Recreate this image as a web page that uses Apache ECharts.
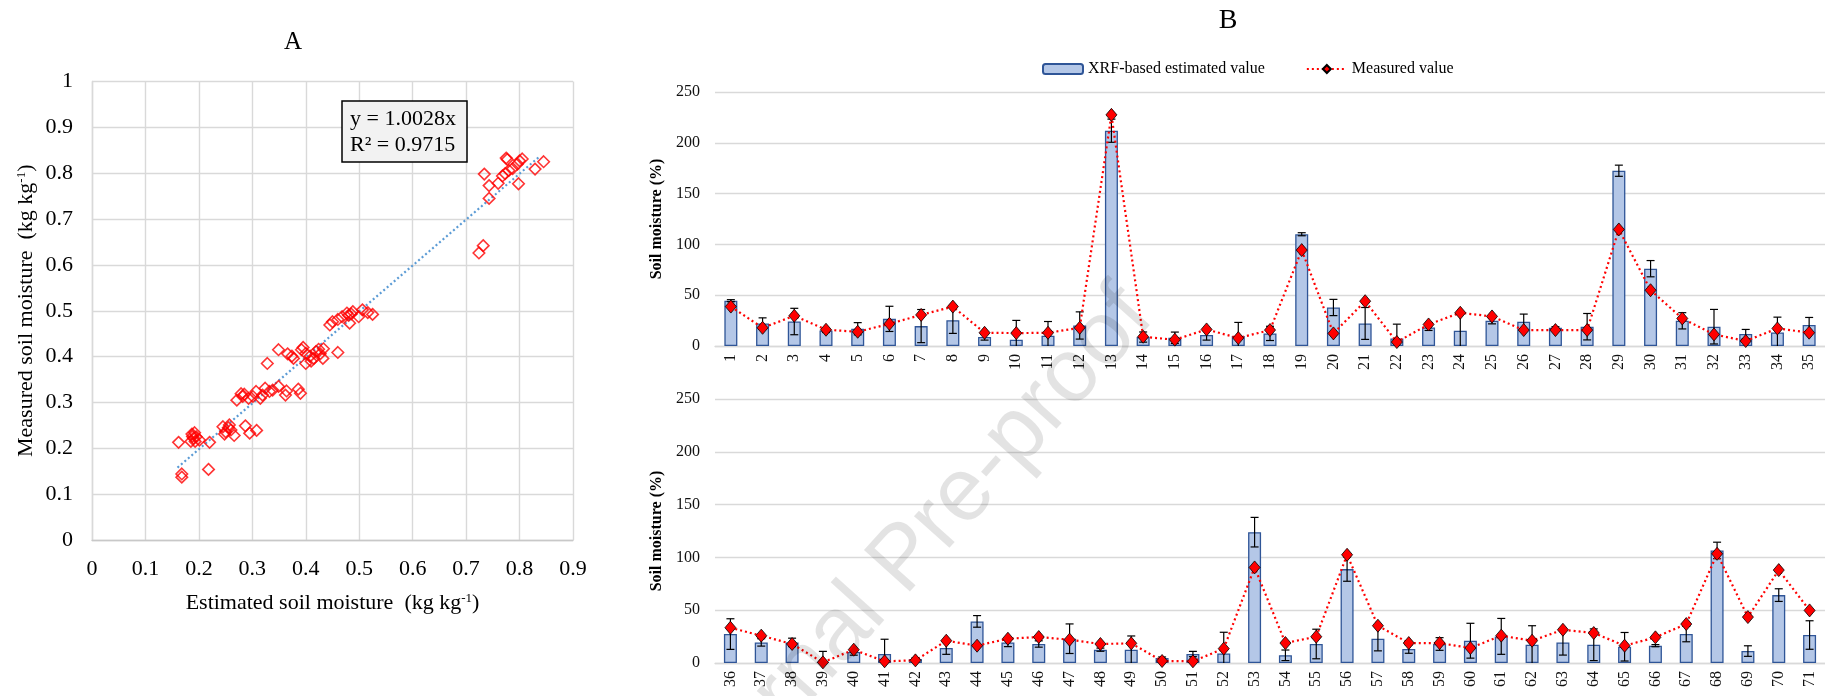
<!DOCTYPE html>
<html>
<head>
<meta charset="utf-8">
<title>Soil moisture</title>
<script src="https://cdn.jsdelivr.net/npm/echarts@6.0.0/dist/echarts.min.js"></script>
<style>
  html, body { margin: 0; padding: 0; background: #fff; }
  #chart { width: 1825px; height: 696px; }
</style>
</head>
<body>
<div id="chart"></div>
<script>
// Panel A - estimated vs measured soil moisture (kg kg-1)
var estA = [0.162, 0.168, 0.168, 0.185, 0.187, 0.188, 0.190, 0.192, 0.193, 0.195, 0.201, 0.218, 0.220,
    0.245, 0.248, 0.250, 0.255, 0.257, 0.260, 0.266, 0.271, 0.279, 0.282, 0.285, 0.287, 0.293, 0.295,
    0.301, 0.307, 0.308, 0.315, 0.319, 0.324, 0.328, 0.332, 0.338, 0.349, 0.349, 0.362, 0.364, 0.366,
    0.374, 0.377, 0.386, 0.390, 0.392, 0.395, 0.400, 0.400, 0.408, 0.410, 0.415, 0.419, 0.424, 0.427,
    0.432, 0.433, 0.460, 0.445, 0.450, 0.460, 0.468, 0.477, 0.480, 0.482, 0.485, 0.488, 0.499, 0.506,
    0.516, 0.525,
    0.724, 0.732, 0.734, 0.743, 0.743, 0.760, 0.768, 0.775, 0.777, 0.773, 0.780, 0.787, 0.798, 0.800,
    0.805, 0.796, 0.829, 0.845];
var measA = [0.213, 0.144, 0.137, 0.215, 0.231, 0.226, 0.222, 0.234, 0.215, 0.225, 0.218, 0.154, 0.213,
    0.247, 0.231, 0.236, 0.245, 0.251, 0.240, 0.228, 0.305, 0.319, 0.313, 0.318, 0.249, 0.309, 0.233,
    0.313, 0.324, 0.239, 0.309, 0.316, 0.331, 0.385, 0.324, 0.327, 0.335, 0.415, 0.316, 0.325, 0.406,
    0.401, 0.396, 0.329, 0.320, 0.415, 0.420, 0.385, 0.407, 0.401, 0.390, 0.396, 0.411, 0.416, 0.406,
    0.396, 0.417, 0.409, 0.469, 0.476, 0.481, 0.487, 0.495, 0.490, 0.473, 0.493, 0.498, 0.487, 0.502,
    0.496, 0.492,
    0.626, 0.642, 0.798, 0.773, 0.745, 0.778, 0.794, 0.833, 0.830, 0.799, 0.806, 0.810, 0.777, 0.827,
    0.831, 0.820, 0.809, 0.825];
// dotted trend line ends (y = 1.0028x)
var trendX = [0.160, 0.837];
var trendY = [0.158, 0.836];

// Panel B - sites 1-35
var sitesTop = ['1', '2', '3', '4', '5', '6', '7', '8', '9', '10', '11', '12', '13', '14', '15', '16', '17', '18',
    '19', '20', '21', '22', '23', '24', '25', '26', '27', '28', '29', '30', '31', '32', '33', '34', '35'];
var xrfTop = [44.6, 22.2, 24.1, 15.3, 17.0, 26.7, 19.6, 25.4, 8.8, 6.2, 10.1, 20.2, 211.9, 8.8, 8.1, 10.8, 9.8, 12.4,
    110.0, 37.9, 22.2, 7.5, 18.3, 15.0, 24.8, 23.9, 18.0, 19.0, 172.5, 76.1, 24.8, 19.0, 11.8, 13.4, 20.6];
var errTop = [1.0, 5.5, 13.0, 2.0, 6.0, 12.4, 16.3, 13.0, 3.0, 19.0, 14.0, 13.4, 11.4, 5.0, 5.6, 5.0, 13.4, 7.0,
    1.5, 8.0, 15.7, 14.0, 3.0, 17.7, 3.0, 7.5, 1.0, 13.0, 5.5, 8.0, 8.0, 17.0, 4.5, 15.0, 7.5];
var measTop = [38.8, 17.9, 29.7, 16.0, 14.0, 21.8, 30.6, 38.8, 13.0, 12.7, 13.0, 17.9, 227.5, 9.1, 6.2, 16.3, 7.8, 15.7,
    94.4, 12.4, 44.1, 3.9, 21.2, 32.7, 29.1, 15.7, 15.7, 15.7, 114.7, 54.9, 27.1, 11.4, 4.9, 17.3, 13.1];

// Panel B - sites 36-71
var sitesBottom = ['36', '37', '38', '39', '40', '41', '42', '43', '44', '45', '46', '47', '48', '49', '50', '51',
    '52', '53', '54', '55', '56', '57', '58', '59', '60', '61', '62', '63', '64', '65', '66', '67', '68', '69',
    '70', '71'];
var xrfBottom = [27.4, 19.5, 19.5, 1.0, 10.4, 8.5, 3.8, 14.2, 39.4, 19.5, 18.0, 23.0, 12.6, 12.6, 4.7, 8.5,
    9.1, 123.9, 7.3, 18.0, 88.9, 23.0, 13.2, 18.0, 21.1, 25.2, 17.3, 19.5, 17.3, 15.4, 16.4, 27.4, 106.6, 11.3,
    64.3, 26.5];
var errBottom = [14.5, 3.5, 4.0, 10.0, 3.0, 14.0, 1.0, 6.0, 5.5, 4.0, 3.0, 14.0, 1.5, 13.0, 1.0, 2.5,
    20.0, 14.0, 5.0, 14.0, 11.5, 11.5, 4.0, 6.0, 16.5, 17.0, 18.0, 12.0, 15.0, 13.5, 1.0, 7.3, 7.8, 5.0,
    6.0, 13.5];
var measBottom = [33.4, 25.9, 18.0, 0.6, 12.6, 1.6, 2.5, 21.1, 16.4, 23.0, 24.6, 22.1, 18.0, 18.6, 1.9, 1.6,
    13.6, 90.5, 18.9, 24.9, 102.5, 35.3, 18.9, 18.9, 14.2, 25.9, 21.1, 31.5, 28.4, 16.4, 24.3, 36.9, 103.4, 43.5,
    88.0, 49.8];

var serif = 'Liberation Serif';
var gridGray = '#d9d9d9';

function pairs(xs, ys) {
    return xs.map(function (x, i) { return [x, ys[i]]; });
}

function errData(vals, errs) {
    return vals.map(function (v, i) { return [i, v, errs[i]]; });
}

// vertical error bar with caps, clipped at zero
function renderErr(params, api) {
    var i = api.value(0);
    var v = api.value(1);
    var e = api.value(2);
    var lowVal = Math.max(0, v - e);
    var hi = api.coord([i, v + e]);
    var lo = api.coord([i, lowVal]);
    var cap = 4;
    var st = { stroke: '#000', lineWidth: 1.2 };
    var kids = [
        { type: 'line', shape: { x1: hi[0], y1: hi[1], x2: lo[0], y2: lo[1] }, style: st },
        { type: 'line', shape: { x1: hi[0] - cap, y1: hi[1], x2: hi[0] + cap, y2: hi[1] }, style: st }
    ];
    if (v - e > 0) {
        kids.push({ type: 'line', shape: { x1: lo[0] - cap, y1: lo[1], x2: lo[0] + cap, y2: lo[1] }, style: st });
    }
    return { type: 'group', children: kids };
}

function catAxis(idx, cats) {
    return {
        type: 'category',
        gridIndex: idx,
        data: cats,
        boundaryGap: true,
        axisLine: { show: true, lineStyle: { color: gridGray, width: 1.3 } },
        axisTick: { show: false },
        axisLabel: {
            interval: 0, rotate: 90, margin: 8,
            fontFamily: serif, fontSize: 16, color: '#111'
        },
        splitLine: { show: false }
    };
}

function pctAxis(idx) {
    return {
        type: 'value',
        gridIndex: idx,
        min: 0, max: 250, interval: 50,
        name: 'Soil moisture (%)',
        nameLocation: 'middle',
        nameGap: 44,
        nameTextStyle: { fontFamily: serif, fontSize: 16, fontWeight: 'bold', color: '#000' },
        axisLine: { show: false },
        axisTick: { show: false },
        axisLabel: { margin: 15, fontFamily: serif, fontSize: 16, color: '#111' },
        splitLine: { show: true, lineStyle: { color: gridGray, width: 1.3 } }
    };
}

var barStyle = { color: '#b4c7e7', borderColor: '#2f5597', borderWidth: 1.3 };
var measLine = { color: '#ff0000', width: 2.2, type: [2, 3] };
var measItem = { color: '#ff0000', borderColor: '#000', borderWidth: 0.8 };

var supRich = {
    sup: { fontFamily: serif, fontSize: 13, verticalAlign: 'top', padding: [0, 0, 4, 0] }
};

var chart = echarts.init(document.getElementById('chart'));

var option = {
    backgroundColor: '#fff',
    animation: false,
    textStyle: { fontFamily: serif },
    legend: {
        left: 1037, top: 56,
        itemWidth: 40, itemHeight: 10, itemGap: 41,
        textStyle: { fontFamily: serif, fontSize: 16, color: '#000' },
        data: ['XRF-based estimated value', 'Measured value']
    },
    grid: [
        { left: 92, top: 81.5, width: 481, height: 458.5 },
        { left: 715, top: 92, width: 1110, height: 254 },
        { left: 715, top: 399, width: 1110, height: 264 }
    ],
    xAxis: [
        {
            type: 'value', gridIndex: 0,
            min: 0, max: 0.9, interval: 0.1,
            name: 'Estimated soil moisture  (kg kg{sup|-1})',
            nameLocation: 'middle', nameGap: 52,
            nameTextStyle: { fontFamily: serif, fontSize: 22, color: '#000', rich: supRich },
            axisLine: { show: true, lineStyle: { color: '#c8c8c8', width: 1.4 } },
            axisTick: { show: false },
            axisLabel: { margin: 18, fontFamily: serif, fontSize: 22, color: '#000' },
            splitLine: { show: true, lineStyle: { color: gridGray, width: 1.4 } }
        },
        catAxis(1, sitesTop),
        catAxis(2, sitesBottom)
    ],
    yAxis: [
        {
            type: 'value', gridIndex: 0,
            min: 0, max: 1, interval: 0.1,
            name: 'Measured soil moisture  (kg kg{sup|-1})',
            nameLocation: 'middle', nameGap: 55,
            nameTextStyle: { fontFamily: serif, fontSize: 22, color: '#000', rich: supRich },
            axisLine: { show: true, lineStyle: { color: gridGray, width: 1.4 } },
            axisTick: { show: false },
            axisLabel: { margin: 19, fontFamily: serif, fontSize: 22, color: '#000' },
            splitLine: { show: true, lineStyle: { color: gridGray, width: 1.4 } }
        },
        pctAxis(1),
        pctAxis(2)
    ],
    series: [
        {
            type: 'line', xAxisIndex: 0, yAxisIndex: 0,
            data: pairs(trendX, trendY),
            symbol: 'none',
            lineStyle: { color: '#5b9bd5', width: 2.2, type: [2, 2.6] },
            z: 2
        },
        {
            type: 'scatter', xAxisIndex: 0, yAxisIndex: 0,
            data: pairs(estA, measA),
            symbol: 'diamond', symbolSize: 11.5,
            itemStyle: { color: 'rgba(0,0,0,0)', borderColor: '#ff0000', borderWidth: 1.6 },
            z: 3
        },
        {
            name: 'XRF-based estimated value', type: 'bar',
            xAxisIndex: 1, yAxisIndex: 1,
            data: xrfTop, barWidth: 13, itemStyle: barStyle
        },
        {
            type: 'custom', xAxisIndex: 1, yAxisIndex: 1,
            data: errData(xrfTop, errTop),
            encode: { x: 0, y: 1 },
            renderItem: renderErr, z: 3
        },
        {
            name: 'Measured value', type: 'line',
            xAxisIndex: 1, yAxisIndex: 1,
            data: measTop,
            symbol: 'diamond', symbolSize: [11, 13],
            lineStyle: measLine, itemStyle: measItem, z: 4
        },
        {
            name: 'XRF-based estimated value', type: 'bar',
            xAxisIndex: 2, yAxisIndex: 2,
            data: xrfBottom, barWidth: 13, itemStyle: barStyle
        },
        {
            type: 'custom', xAxisIndex: 2, yAxisIndex: 2,
            data: errData(xrfBottom, errBottom),
            encode: { x: 0, y: 1 },
            renderItem: renderErr, z: 3
        },
        {
            name: 'Measured value', type: 'line',
            xAxisIndex: 2, yAxisIndex: 2,
            data: measBottom,
            symbol: 'diamond', symbolSize: [11, 13],
            lineStyle: measLine, itemStyle: measItem, z: 4
        }
    ],
    graphic: [
        {
            type: 'text', x: 293, y: 42,
            style: { text: 'A', font: '25px "Liberation Serif"', fill: '#000', align: 'center', verticalAlign: 'middle' }
        },
        {
            type: 'text', x: 1228, y: 21,
            style: { text: 'B', font: '28px "Liberation Serif"', fill: '#000', align: 'center', verticalAlign: 'middle' }
        },
        {
            type: 'rect', x: 342, y: 101, z: 10,
            shape: { width: 125, height: 61 },
            style: { fill: '#f2f2f2', stroke: '#000', lineWidth: 1.5 }
        },
        {
            type: 'text', x: 350, y: 119, z: 11,
            style: { text: 'y = 1.0028x', font: '22px "Liberation Serif"', fill: '#000', verticalAlign: 'middle' }
        },
        {
            type: 'text', x: 350, y: 145, z: 11,
            style: { text: 'R\u00b2 = 0.9715', font: '22px "Liberation Serif"', fill: '#000', verticalAlign: 'middle' }
        },
        {
            // watermark
            type: 'text', x: 905, y: 560, rotation: 48 * Math.PI / 180, z: 100, silent: true,
            style: {
                text: 'Journal Pre-proof', font: '90px "Liberation Sans"',
                fill: 'rgba(0,0,0,0.11)', align: 'center', verticalAlign: 'middle'
            }
        }
    ]
};

chart.setOption(option);

window.addEventListener('resize', function () {
    chart.resize();
});
</script>
</body>
</html>
